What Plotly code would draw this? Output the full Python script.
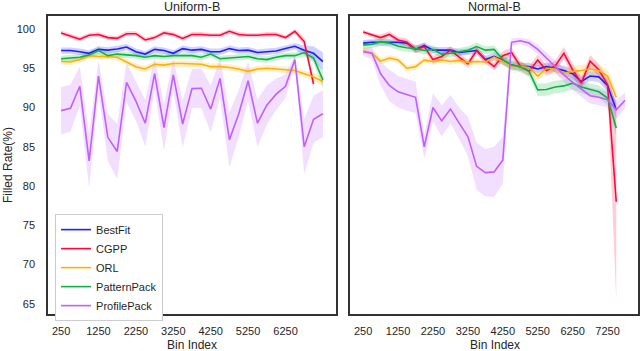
import plotly.graph_objs as go

# bin indices
bins_uniform = [250, 500, 750, 1000, 1250, 1500, 1750, 2000, 2250, 2500, 2750, 3000, 3250, 3500,
                3750, 4000, 4250, 4500, 4750, 5000, 5250, 5500, 5750, 6000, 6250, 6500, 6750, 7000, 7250]
bins_normal = [250, 500, 750, 1000, 1250, 1500, 1750, 2000, 2250, 2500, 2750, 3000, 3250, 3500,
               3750, 4000, 4250, 4500, 4750, 5000, 5250, 5500, 5750, 6000, 6250, 6500, 6750, 7000,
               7250, 7500, 7750]

methods = ['BestFit', 'CGPP', 'ORL', 'PatternPack', 'ProfilePack']
colors = {'BestFit': '#1f1fff', 'CGPP': '#ff073a', 'ORL': '#ffb000',
          'PatternPack': '#0cb33f', 'ProfilePack': '#bf5fff'}

# Uniform-B mean filled rate
u_bestfit = [97.25, 97.25, 97.1, 96.9, 97.4, 97.3, 97.45, 97.7, 97.1, 96.8, 97.4, 97.25, 96.9, 97.5,
             97.3, 97.4, 97.1, 97.1, 97.5, 97.25, 97.3, 97.0, 97.1, 97.2, 97.5, 97.8, 97.3, 96.9, 95.85]
u_cgpp = [99.5, 99.1, 98.7, 99.2, 99.3, 98.9, 98.8, 99.4, 99.4, 98.6, 98.9, 99.5, 99.3, 98.8,
          99.3, 99.3, 99.2, 99.2, 99.7, 99.3, 99.2, 99.2, 99.3, 99.3, 98.9, 99.7, 98.4, 93.0]
u_orl = [95.85, 95.8, 96.1, 96.6, 96.5, 96.5, 96.4, 95.85, 95.2, 94.9, 95.5, 95.4, 95.6, 95.6,
         95.55, 95.5, 95.2, 95.2, 95.1, 94.9, 94.6, 94.9, 95.0, 94.9, 94.8, 94.7, 94.3, 93.9, 93.3]
u_pattern = [96.2, 96.3, 96.4, 96.7, 97.25, 96.6, 96.8, 96.7, 96.6, 96.4, 96.6, 96.5, 96.6, 96.6,
             96.6, 96.4, 96.8, 96.2, 96.3, 96.4, 96.5, 96.2, 96.1, 96.4, 96.6, 96.6, 97.0, 96.3, 93.5]
u_profile = [89.6, 89.9, 92.7, 83.2, 94.0, 86.2, 84.4, 93.2, 90.8, 88.0, 94.3, 87.45, 94.15, 87.9,
             92.4, 92.45, 89.8, 93.7, 85.9, 89.2, 93.4, 88.0, 90.3, 91.7, 92.7, 96.1, 85.0, 88.5, 89.2]

# Uniform-B confidence half-widths
u_bestfit_ci = [0.4, 0.4, 0.4, 0.4, 0.4, 0.4, 0.4, 0.4, 0.4, 0.4, 0.4, 0.4, 0.4, 0.4,
                0.4, 0.4, 0.4, 0.4, 0.4, 0.4, 0.4, 0.4, 0.4, 0.4, 0.4, 0.4, 0.6, 0.9, 1.2]
u_cgpp_ci = [0.3, 0.3, 0.3, 0.3, 0.3, 0.3, 0.3, 0.3, 0.3, 0.3, 0.3, 0.3, 0.3, 0.3,
             0.3, 0.3, 0.3, 0.3, 0.3, 0.3, 0.3, 0.3, 0.3, 0.3, 0.3, 0.3, 0.5, 0.8]
u_orl_ci = [0.4, 0.4, 0.4, 0.4, 0.4, 0.4, 0.4, 0.4, 0.4, 0.4, 0.4, 0.4, 0.4, 0.4,
            0.4, 0.4, 0.4, 0.4, 0.4, 0.4, 0.4, 0.4, 0.4, 0.4, 0.4, 0.4, 0.4, 0.5, 0.6]
u_pattern_ci = [0.4, 0.4, 0.4, 0.4, 0.5, 0.4, 0.4, 0.4, 0.4, 0.4, 0.4, 0.4, 0.4, 0.4,
                0.4, 0.4, 0.4, 0.4, 0.4, 0.4, 0.4, 0.4, 0.4, 0.4, 0.4, 0.4, 0.5, 0.6, 1.0]
u_profile_ci = [3.0, 3.0, 2.5, 3.5, 2.0, 3.0, 3.5, 2.5, 2.5, 3.0, 2.0, 3.0, 2.0, 3.0,
                2.5, 2.5, 3.0, 2.5, 3.5, 3.0, 2.5, 3.0, 2.5, 2.0, 1.5, 0.6, 3.5, 3.0, 3.0]

# Normal-B mean filled rate
n_bestfit = [98.2, 98.3, 98.3, 98.3, 98.3, 98.2, 97.4, 97.9, 97.3, 97.3, 97.3, 97.0, 97.1, 97.25,
             96.1, 96.5, 96.0, 95.4, 95.2, 95.2, 94.9, 95.2, 95.0, 94.7, 94.3, 93.3, 94.0, 93.9,
             92.8, 89.7]
n_cgpp = [99.6, 99.2, 98.9, 99.3, 98.6, 98.3, 97.4, 97.75, 96.1, 96.5, 97.3, 96.4, 95.55, 97.25,
          96.1, 95.2, 96.6, 97.0, 95.3, 94.6, 96.05, 94.7, 95.3, 96.9, 94.8, 93.1, 95.9, 94.8,
          92.9, 78.0]
n_orl = [97.25, 96.9, 95.9, 96.3, 96.05, 95.0, 95.2, 96.05, 95.85, 96.05, 95.85, 96.0, 95.75, 95.85,
         95.8, 96.4, 95.85, 95.3, 95.2, 95.1, 94.0, 95.0, 94.9, 94.4, 94.6, 94.7, 94.9, 94.7,
         94.0, 91.3]
n_pattern = [97.97, 98.05, 98.35, 98.2, 97.8, 97.6, 97.5, 97.25, 97.4, 96.8, 96.9, 97.1, 97.3, 97.75,
             97.3, 97.4, 96.1, 95.4, 95.2, 94.6, 92.25, 92.3, 92.6, 92.75, 93.1, 92.6, 92.25, 92.0,
             91.2, 87.4]
n_profile = [97.1, 96.9, 94.3, 92.8, 92.0, 91.6, 91.3, 85.0, 90.0, 88.3, 89.8, 88.0, 86.3, 82.5,
             81.7, 81.8, 83.3, 98.3, 98.5, 98.2, 97.4, 96.3, 95.2, 94.15, 93.2, 92.3, 91.5, 91.3,
             91.0, 89.7, 90.9]

# Normal-B confidence half-widths
n_bestfit_ci = [0.4, 0.4, 0.4, 0.4, 0.4, 0.4, 0.4, 0.4, 0.4, 0.4, 0.4, 0.4, 0.4, 0.4,
                0.5, 0.5, 0.5, 0.5, 0.5, 0.5, 0.5, 0.5, 0.5, 0.6, 0.6, 0.6, 0.6, 0.7, 0.8, 1.0]
n_cgpp_ci = [0.3, 0.3, 0.4, 0.4, 0.4, 0.5, 0.5, 0.5, 0.5, 0.5, 0.5, 0.5, 0.5, 0.5,
             0.5, 0.5, 0.6, 0.6, 0.6, 0.6, 0.7, 0.7, 0.7, 0.8, 0.8, 0.8, 0.8, 0.8, 0.8, 12.5]
n_orl_ci = [0.4, 0.4, 0.4, 0.4, 0.4, 0.4, 0.4, 0.4, 0.4, 0.4, 0.4, 0.4, 0.4, 0.4,
            0.4, 0.4, 0.5, 0.5, 0.5, 0.5, 0.6, 0.6, 0.7, 0.7, 0.7, 0.7, 0.7, 0.7, 0.8, 0.9]
n_pattern_ci = [0.5, 0.5, 0.5, 0.5, 0.5, 0.5, 0.5, 0.5, 0.5, 0.5, 0.5, 0.5, 0.5, 0.5,
                0.5, 0.5, 0.6, 0.7, 0.7, 0.7, 0.8, 0.8, 0.8, 0.8, 0.8, 0.8, 0.8, 0.8, 0.9, 1.0]
n_profile_ci = [0.5, 0.8, 1.5, 2.0, 2.0, 2.0, 2.0, 1.5, 1.8, 2.0, 1.8, 2.0, 2.5, 3.0,
                3.0, 3.2, 3.0, 0.5, 0.4, 0.5, 0.6, 0.7, 0.8, 0.9, 1.0, 1.0, 1.0, 1.0, 1.0, 1.2, 1.0]

uniform = {'BestFit': (u_bestfit, u_bestfit_ci), 'CGPP': (u_cgpp, u_cgpp_ci),
           'ORL': (u_orl, u_orl_ci), 'PatternPack': (u_pattern, u_pattern_ci),
           'ProfilePack': (u_profile, u_profile_ci)}
normal = {'BestFit': (n_bestfit, n_bestfit_ci), 'CGPP': (n_cgpp, n_cgpp_ci),
          'ORL': (n_orl, n_orl_ci), 'PatternPack': (n_pattern, n_pattern_ci),
          'ProfilePack': (n_profile, n_profile_ci)}


def rgba(hex_color, a):
    h = hex_color.lstrip('#')
    return 'rgba(%d,%d,%d,%s)' % (int(h[0:2], 16), int(h[2:4], 16), int(h[4:6], 16), a)


fig = go.Figure()


def add_panel(data, bins, xa, ya, show_legend):
    # bands first so lines sit on top
    for m in methods:
        vals, ci = data[m]
        xs = bins[:len(vals)]
        upper = [v + c for v, c in zip(vals, ci)]
        lower = [v - c for v, c in zip(vals, ci)]
        fig.add_trace(go.Scatter(
            x=xs + xs[::-1], y=upper + lower[::-1],
            fill='toself', fillcolor=rgba(colors[m], 0.2),
            line=dict(width=0), mode='lines', hoverinfo='skip',
            showlegend=False, xaxis=xa, yaxis=ya
        ))
    for m in methods:
        vals, ci = data[m]
        fig.add_trace(go.Scatter(
            x=bins[:len(vals)], y=vals, mode='lines', name=m,
            line=dict(color=colors[m], width=1.6),
            legendgroup=m, showlegend=show_legend, xaxis=xa, yaxis=ya
        ))


add_panel(uniform, bins_uniform, 'x', 'y', True)
add_panel(normal, bins_normal, 'x2', 'y2', False)

axis_style = dict(showline=True, mirror=True, linecolor='#333333', linewidth=1.5,
                  showgrid=False, zeroline=False, ticks='',
                  tickfont=dict(size=11, color='#262626'))

fig.update_layout(
    width=640, height=351,
    margin=dict(l=0, r=0, t=0, b=0, autoexpand=False),
    plot_bgcolor='white', paper_bgcolor='white',
    font=dict(family='Liberation Sans, Arial, sans-serif', color='#262626'),
    xaxis=dict(domain=[0.075, 0.525], range=[-100, 7600],
               tickvals=[250, 1250, 2250, 3250, 4250, 5250, 6250],
               ticklabelstandoff=6, **axis_style),
    xaxis2=dict(domain=[0.547, 0.997], range=[-125, 8125],
                tickvals=[250, 1250, 2250, 3250, 4250, 5250, 6250, 7250],
                ticklabelstandoff=6, **axis_style),
    yaxis=dict(domain=[0.1054, 0.9544], range=[63.7, 101.65], anchor='x',
               tickvals=[65, 70, 75, 80, 85, 90, 95, 100],
               ticklabelstandoff=9, **axis_style),
    yaxis2=dict(domain=[0.1054, 0.9544], range=[63.7, 101.65], anchor='x2',
                showticklabels=False, **axis_style),
    legend=dict(x=0.086, y=0.39, xanchor='left', yanchor='top',
                bgcolor='white', bordercolor='#cccccc', borderwidth=1,
                font=dict(size=11, color='#262626'), itemwidth=30, tracegroupgap=0),
    showlegend=True,
)

annotations = [
    dict(text='Uniform-B', x=0.3, y=0.98, xref='paper', yref='paper', showarrow=False,
         font=dict(size=12.5), xanchor='center', yanchor='middle'),
    dict(text='Normal-B', x=0.773, y=0.98, xref='paper', yref='paper', showarrow=False,
         font=dict(size=12.5), xanchor='center', yanchor='middle'),
    dict(text='Bin Index', x=0.3, y=1 - 345 / 351, xref='paper', yref='paper', showarrow=False,
         font=dict(size=12), xanchor='center', yanchor='middle'),
    dict(text='Bin Index', x=0.773, y=1 - 345 / 351, xref='paper', yref='paper', showarrow=False,
         font=dict(size=12), xanchor='center', yanchor='middle'),
    dict(text='Filled Rate(%)', x=8 / 640, y=1 - 165 / 351, xref='paper', yref='paper',
         showarrow=False, textangle=-90, font=dict(size=12), xanchor='center', yanchor='middle'),
]
fig.update_layout(annotations=annotations)

# drop the default page margin so the 640x351 figure fills the window
fig.write_html("out.html", config={'displayModeBar': False},
               post_script="document.body.style.margin='0';")
